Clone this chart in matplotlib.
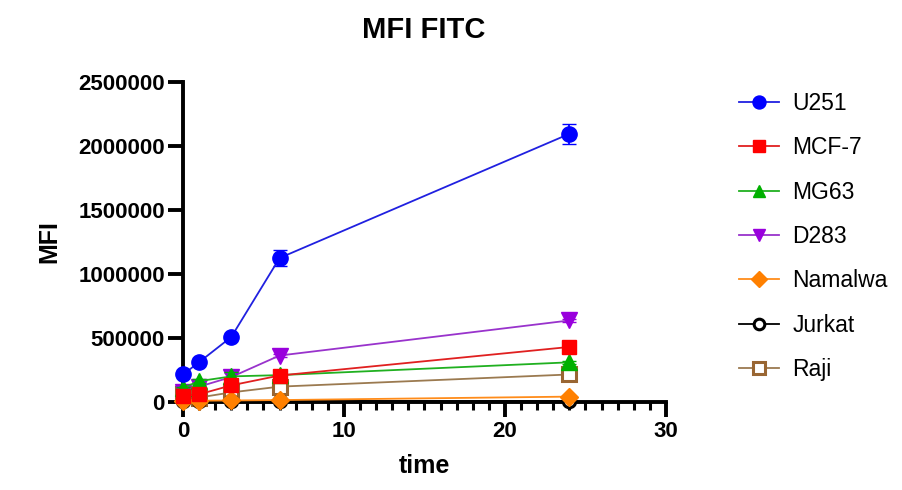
import numpy as np
import matplotlib.pyplot as plt
from matplotlib.ticker import MultipleLocator, FormatStrFormatter

plt.rcParams['font.family'] = ['Liberation Sans', 'DejaVu Sans']

time_h = [0, 1, 3, 6, 24]
labels = ['U251', 'MCF-7', 'MG63', 'D283', 'Namalwa', 'Jurkat', 'Raji']
u251 = [215000, 311000, 508000, 1125000, 2095000]
u251_err = [15000, 15000, 20000, 60000, 80000]
mcf7 = [47000, 60000, 130000, 207000, 430000]
mg63 = [110000, 163000, 200000, 210000, 310000]
mg63_err = [10000, 15000, 35000, 10000, 10000]
d283 = [80000, 120000, 195000, 363000, 637000]
d283_err = [10000, 10000, 30000, 10000, 10000]
namalwa = [10000, 10000, 12000, 15000, 42000]
jurkat = [5000, 5000, 5000, 6000, 8000]
raji = [60000, 35000, 75000, 120000, 215000]

series = [u251, mcf7, mg63, d283, namalwa, jurkat, raji]
errors = [u251_err, None, mg63_err, d283_err, None, None, None]
colors = ['#0000ff', '#ff0000', '#00b000', '#9900dd', '#ff8000', '#000000', '#996633']
markers = ['o', 's', '^', 'v', 'D', 'o', 's']
line_cols = ['#2020e0', '#e02020', '#20b020', '#9933cc', '#ff8c1a', '#000000', '#9b7a50']
msizes = [11, 10, 11, 11, 9, 9, 10]

fig = plt.figure(figsize=(9.03, 4.9), dpi=100)
ax = fig.add_axes([183/903, 1-402/490, (666-183)/903, (402-82)/490])

handles = []
for i, (y, lab) in enumerate(zip(series, labels)):
    hollow = lab in ('Jurkat', 'Raji')
    eb = ax.errorbar(time_h, y, yerr=errors[i], color=line_cols[i], ecolor=colors[i],
                     marker=markers[i], markersize=msizes[i], linewidth=1.3,
                     markerfacecolor='white' if hollow else colors[i],
                     markeredgecolor=colors[i], markeredgewidth=2.2 if hollow else 1,
                     capsize=5, elinewidth=1.3, capthick=1.3, label=lab, clip_on=False,
                     zorder=3 + (7 - i))
    handles.append(eb[0])

ax.set_xlim(0, 30)
ax.set_ylim(0, 2500000)
ax.xaxis.set_major_locator(MultipleLocator(10))
ax.xaxis.set_minor_locator(MultipleLocator(1))
ax.yaxis.set_major_locator(MultipleLocator(500000))
ax.yaxis.set_major_formatter(FormatStrFormatter('%d'))
for s in ['top', 'right']:
    ax.spines[s].set_visible(False)
for s in ['left', 'bottom']:
    ax.spines[s].set_linewidth(2.8)
ax.tick_params(axis='both', which='major', direction='out', length=11, width=2.8,
               labelsize=16, pad=3)
ax.tick_params(axis='y', which='major', pad=2)
ax.tick_params(axis='x', which='minor', direction='out', length=6, width=2.2)
for t in ax.get_xticklabels() + ax.get_yticklabels():
    t.set_fontweight('bold')

ax.set_xlabel('time', fontsize=18, fontweight='bold', labelpad=8)
ax.set_ylabel('MFI', fontsize=18, fontweight='bold', labelpad=12)
fig.suptitle('MFI FITC', x=424/903, y=1-30/490, va='center', fontsize=21, fontweight='bold')

fig.legend(handles, labels, loc='upper left', bbox_to_anchor=(739/903, 1-92/490),
           frameon=False, fontsize=16.5, handlelength=1.75, labelspacing=0.93,
           handletextpad=0.57, borderpad=0, borderaxespad=0, markerscale=0.85)

fig.savefig('out.png', dpi=100)
